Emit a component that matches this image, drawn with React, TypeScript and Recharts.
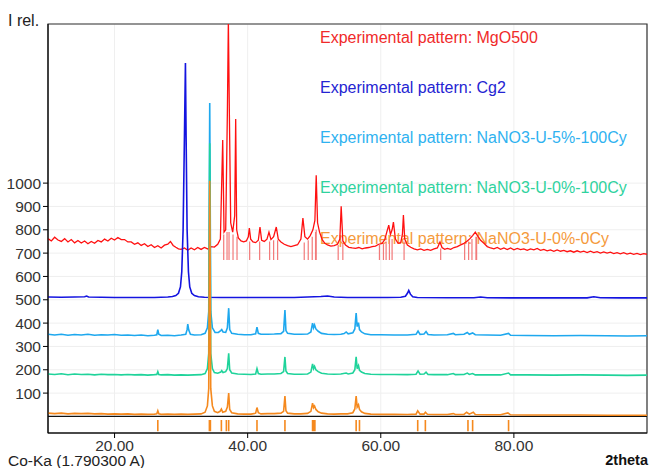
import React from "react";
import { LineChart, Line, XAxis, YAxis, CartesianGrid, ReferenceArea } from "recharts";

// 2theta (Co-Ka) / relative intensity, each pattern already offset as in the plot
type Pt = [number, number];

const mgo500: Pt[] = [
  [10, 762], [10.5, 752], [11, 768], [11.5, 756], [12, 750], [12.5, 762], [13, 748], [13.5, 758],
  [14, 744], [14.5, 754], [15, 743], [15.5, 752], [16, 740], [16.5, 750], [17, 742], [17.5, 754],
  [18, 748], [18.5, 760], [19, 752], [19.5, 764], [20, 756], [20.5, 767], [21, 758], [21.5, 758],
  [22, 748], [22.5, 748], [23, 738], [23.5, 744], [24, 733], [24.5, 740], [25, 728], [25.5, 736],
  [26, 724], [26.5, 732], [27, 722], [27.5, 734], [28, 738], [28.4, 750], [28.8, 733], [29.2, 725],
  [29.6, 718], [30, 716], [30.5, 722], [31, 712], [31.5, 722], [32, 714], [32.5, 724], [33, 716],
  [33.5, 724], [34, 718], [34.5, 728], [35, 726], [35.5, 738], [35.9, 760], [36.25, 1185], [36.45, 790],
  [36.7, 800], [36.95, 1300], [37.1, 1700], [37.25, 1300], [37.45, 830], [37.75, 790], [38.05, 860],
  [38.2, 1275], [38.35, 800], [38.6, 765], [39, 752], [39.4, 748], [39.8, 752], [40.1, 770],
  [40.25, 807], [40.45, 760], [40.8, 748], [41.2, 745], [41.6, 755], [41.85, 812], [42.1, 755],
  [42.5, 750], [42.9, 760], [43.2, 790], [43.5, 758], [43.9, 770], [44.3, 812], [44.6, 760], [45, 748],
  [45.5, 738], [46, 732], [46.5, 728], [47, 732], [47.5, 736], [48, 760], [48.3, 850], [48.6, 770],
  [49, 760], [49.4, 775], [49.8, 800], [50.1, 840], [50.3, 1034], [50.5, 830], [50.8, 790], [51.2, 758],
  [51.6, 742], [52, 735], [52.5, 730], [53, 732], [53.5, 738], [53.85, 760], [54.05, 901], [54.3, 752],
  [54.7, 735], [55.2, 725], [55.7, 722], [56.2, 720], [56.7, 724], [57.2, 718], [57.7, 722], [58.2, 724],
  [58.7, 728], [59.2, 730], [59.7, 738], [60.2, 742], [60.6, 758], [60.9, 790], [61.2, 820], [61.45, 780],
  [61.7, 800], [61.9, 833], [62.2, 760], [62.6, 742], [63, 745], [63.25, 780], [63.4, 863], [63.6, 760],
  [64, 735], [64.5, 725], [65, 718], [65.5, 714], [66, 718], [66.5, 712], [67, 716], [67.5, 712],
  [68, 718], [68.5, 722], [68.9, 748], [69.2, 724], [69.6, 716], [70, 720], [70.5, 716], [71, 724],
  [71.5, 728], [72, 735], [72.5, 742], [73, 752], [73.4, 762], [73.8, 775], [74.2, 790], [74.6, 772],
  [75, 755], [75.5, 742], [76, 728], [76.5, 722], [77, 718], [77.5, 724], [78, 716], [78.5, 722],
  [79, 715], [79.5, 722], [80, 714], [80.5, 720], [81, 715], [81.5, 718], [82, 712], [82.5, 718],
  [83, 714], [83.5, 720], [84, 712], [84.5, 716], [85, 710], [85.5, 714], [86, 708], [86.5, 714],
  [87, 708], [87.5, 712], [88, 706], [88.5, 710], [89, 704], [89.5, 710], [90, 704], [90.5, 708],
  [91, 702], [91.5, 708], [92, 702], [92.5, 706], [93, 700], [93.5, 705], [94, 700], [94.5, 704],
  [95, 698], [95.5, 702], [96, 697], [96.5, 702], [97, 696], [97.5, 700], [98, 695], [98.5, 699],
  [99, 694], [99.5, 698], [100, 695],
];

const cg2: Pt[] = [
  [10, 512], [12, 511], [14, 512], [15.5, 513], [15.8, 516], [16.1, 512], [18, 511], [20, 510],
  [22, 510], [24, 510], [26, 510], [27, 511], [28, 512], [28.7, 514], [29.2, 518], [29.6, 528],
  [29.9, 555], [30.1, 620], [30.3, 800], [30.5, 1200], [30.65, 1515], [30.75, 1200], [30.9, 800],
  [31.1, 620], [31.3, 555], [31.6, 528], [32, 518], [32.6, 513], [33.5, 511], [36, 510], [40, 510],
  [44, 510], [47, 510], [49, 512], [51, 514], [52, 516], [53, 512], [55, 510], [58, 510], [61, 510],
  [63, 511], [63.7, 515], [64, 528], [64.2, 540], [64.45, 524], [64.8, 513], [65.5, 510], [70, 509],
  [74, 509], [75, 512], [76, 509], [80, 508], [86, 508], [91, 508], [92, 513], [93, 509], [96, 508],
  [100, 508],
];

const u5_100cy: Pt[] = [
  [10, 352], [11, 349], [12, 352], [13, 348], [14, 351], [15, 349], [16, 352], [17, 348], [18, 350],
  [19, 349], [20, 351], [21, 348], [22, 349], [23, 347], [24, 349], [25, 346], [26, 348], [26.35, 350],
  [26.5, 372], [26.65, 352], [27, 347], [28, 348], [29, 346], [30, 349], [30.7, 352], [30.9, 372],
  [31, 396], [31.15, 370], [31.4, 352], [32, 349], [33, 350], [33.6, 356], [33.95, 380], [34.15, 450],
  [34.3, 1343], [34.45, 450], [34.7, 380], [35.1, 360], [35.6, 360], [35.95, 368], [36.1, 372],
  [36.3, 362], [36.7, 360], [36.95, 380], [37.15, 464], [37.3, 372], [37.6, 356], [38.5, 352],
  [39.5, 350], [40.5, 350], [41.2, 354], [41.4, 383], [41.6, 356], [42, 352], [43, 352], [44, 353],
  [45, 355], [45.4, 365], [45.6, 456], [45.75, 368], [46, 356], [47, 352], [48, 352], [49, 353],
  [49.5, 362], [49.75, 400], [49.9, 380], [50.05, 392], [50.25, 375], [50.6, 365], [51.1, 356],
  [52, 352], [53, 351], [54, 352], [54.5, 355], [54.8, 362], [55.1, 354], [55.8, 358], [56.1, 375],
  [56.3, 443], [56.45, 385], [56.65, 402], [56.8, 372], [57.1, 362], [57.6, 354], [58.5, 350],
  [60, 350], [62, 349], [64, 349], [65.3, 352], [65.6, 366], [65.9, 352], [66.5, 353], [66.8, 364],
  [67.1, 351], [68, 349], [70, 350], [70.9, 356], [71.2, 350], [72.5, 352], [73, 360], [73.3, 352],
  [73.8, 358], [74.2, 350], [76, 349], [78, 348], [79.2, 356], [79.5, 348], [82, 347], [86, 346],
  [90, 347], [94, 346], [97, 345], [100, 346],
];

const u0_100cy: Pt[] = [
  [10, 182], [11, 180], [12, 183], [13, 179], [14, 182], [15, 180], [16, 181], [17, 178], [18, 181],
  [19, 179], [20, 180], [21, 178], [22, 180], [23, 178], [24, 179], [25, 177], [26, 179], [26.35, 180],
  [26.5, 192], [26.65, 180], [27, 178], [28, 179], [29, 177], [30, 178], [31, 177], [32, 178],
  [33, 179], [33.6, 184], [33.95, 205], [34.15, 270], [34.3, 1171], [34.45, 270], [34.7, 205],
  [35, 188], [35.5, 185], [35.95, 190], [36.1, 196], [36.3, 188], [36.7, 192], [36.95, 205],
  [37.15, 271], [37.3, 200], [37.6, 186], [38.5, 182], [39.5, 181], [40.5, 180], [41.2, 182],
  [41.4, 205], [41.6, 184], [42, 181], [43, 182], [44, 182], [45, 184], [45.4, 192], [45.6, 255],
  [45.75, 195], [46, 184], [47, 181], [48, 181], [49, 182], [49.5, 190], [49.75, 225], [49.9, 205],
  [50.05, 215], [50.25, 200], [50.6, 192], [51.1, 185], [52, 182], [53, 181], [54, 182], [54.8, 186],
  [55.1, 182], [55.8, 186], [56.1, 200], [56.3, 255], [56.45, 205], [56.65, 218], [56.8, 198],
  [57.1, 190], [57.6, 184], [58.5, 181], [60, 180], [62, 180], [64, 179], [65.3, 181], [65.6, 195],
  [65.9, 181], [66.5, 182], [66.8, 190], [67.1, 180], [68, 179], [70, 179], [70.9, 184], [71.2, 179],
  [72.5, 180], [73, 186], [73.3, 180], [73.8, 184], [74.2, 178], [76, 178], [78, 178], [79.2, 186],
  [79.5, 178], [82, 178], [86, 177], [90, 178], [94, 177], [97, 176], [100, 177],
];

const u0_0cy: Pt[] = [
  [10, 14], [11, 12], [12, 14], [13, 11], [14, 13], [15, 12], [16, 13], [17, 11], [18, 12], [19, 10],
  [20, 11], [21, 10], [22, 11], [23, 9], [24, 10], [25, 9], [26, 10], [26.35, 11], [26.5, 24],
  [26.65, 11], [27, 9], [28, 10], [29, 9], [30, 10], [31, 9], [32, 10], [33, 11], [33.6, 18],
  [33.95, 45], [34.15, 120], [34.3, 1010], [34.45, 120], [34.7, 45], [35, 22], [35.5, 16], [35.85, 22],
  [36.05, 32], [36.25, 18], [36.7, 22], [36.95, 40], [37.15, 100], [37.3, 30], [37.6, 16], [38.5, 11],
  [39.5, 10], [40.5, 10], [41.2, 14], [41.4, 38], [41.6, 16], [42, 11], [43, 12], [44, 12], [45, 14],
  [45.4, 22], [45.6, 87], [45.75, 24], [46, 14], [47, 11], [48, 11], [49, 13], [49.5, 22], [49.75, 57],
  [49.9, 38], [50.05, 45], [50.25, 30], [50.6, 20], [51.1, 14], [52, 11], [53, 10], [54, 11], [55, 11],
  [55.8, 16], [56.1, 32], [56.3, 87], [56.45, 40], [56.65, 50], [56.8, 30], [57.1, 20], [57.6, 13],
  [58.5, 10], [60, 9], [62, 9], [64, 8], [65.3, 10], [65.55, 24], [65.9, 10], [66.5, 10], [66.7, 18],
  [67, 9], [68, 8], [70, 8], [70.9, 12], [71.2, 8], [72.5, 9], [72.9, 18], [73.3, 10], [73.9, 18],
  [74.2, 8], [76, 7], [78, 7], [79.1, 15], [79.5, 7], [82, 6], [86, 6], [90, 6], [94, 5], [97, 5],
  [100, 5],
];

// reference sticks
const mgoStickPos = [36.4, 36.9, 37.2, 37.8, 38.4, 40.3, 41.8, 43.3, 43.9, 44.5, 48.5, 49.1, 49.7,
  50.2, 50.3, 53.6, 54.3, 59.8, 60.4, 60.8, 61.3, 61.7, 63.5, 69.0, 72.6, 73.2, 73.7, 74.3, 74.4];
const mgoStickTop = [780, 790, 790, 780, 770, 750, 750, 750, 755, 755, 745, 755, 770,
  790, 800, 735, 740, 735, 740, 750, 760, 760, 750, 720, 740, 750, 760, 770, 770];
const mgoStickBase = 670;

const nanoStickPos = [26.5, 34.25, 34.4, 36.05, 36.8, 37.15, 41.4, 45.6, 49.75, 49.9, 50.1, 56.3,
  56.8, 65.55, 66.7, 73.1, 73.8, 79.2];
const nanoStickTop = -15;
const nanoStickBase = -63;

const zeroLine: Pt[] = [[10, 0], [100, 0]];

const xTicks = [20, 40, 60, 80];
const yTicks = [100, 200, 300, 400, 500, 600, 700, 800, 900, 1000];

const labels = [
  { text: "Experimental pattern: MgO500", color: "#f02a2a" },
  { text: "Experimental pattern: Cg2", color: "#2424d2" },
  { text: "Experimental pattern: NaNO3-U-5%-100Cy", color: "#2fb2f0" },
  { text: "Experimental pattern: NaNO3-U-0%-100Cy", color: "#2fd29e" },
  { text: "Experimental pattern: NaNO3-U-0%-0Cy", color: "#f59a3c" },
];

const pts = (a: Pt[]) => a.map(([x, y]) => ({ x, y }));
const sticks = (pos: number[], lo: number | number[], hi: number | number[]) =>
  pos.flatMap((x, i) => [
    { x, y: Array.isArray(lo) ? lo[i] : lo },
    { x, y: Array.isArray(hi) ? hi[i] : hi },
    { x, y: null },
  ]);

const FONT = "'Liberation Sans', Arial, sans-serif";
const tickStyle = { fontSize: 15.5, fill: "#333", fontFamily: FONT };

export default function App() {
  return (
    <div style={{ position: "absolute", left: 0, top: 0, width: 650, height: 468, background: "#fff" }}>
      <LineChart width={650} height={468} margin={{ top: 24, right: 3, left: 0, bottom: 0 }}>
        <CartesianGrid stroke="#efefef" />
        <XAxis
          type="number"
          dataKey="x"
          domain={[10, 100]}
          ticks={xTicks}
          allowDataOverflow
          height={35}
          tickSize={5}
          tickFormatter={(v: number) => v.toFixed(2)}
          tick={tickStyle}
          stroke="#000"
        />
        <YAxis
          type="number"
          domain={[-71, 1682]}
          ticks={yTicks}
          allowDataOverflow
          width={48}
          tickSize={5}
          tick={tickStyle}
          stroke="#000"
        />
        <ReferenceArea x1={10} x2={100} y1={-71} y2={1682} fill="none" stroke="#333" strokeWidth={1.2} />
        <Line data={pts(zeroLine)} dataKey="y" stroke="#111" strokeWidth={1.2} dot={false} isAnimationActive={false} />
        <Line data={sticks(mgoStickPos, mgoStickBase, mgoStickTop)} dataKey="y" stroke="#f27a7a" strokeWidth={1.2} dot={false} connectNulls={false} isAnimationActive={false} />
        <Line data={pts(mgo500)} dataKey="y" stroke="#ff1010" strokeWidth={1.3} dot={false} isAnimationActive={false} />
        <Line data={pts(cg2)} dataKey="y" stroke="#1414e0" strokeWidth={1.6} dot={false} isAnimationActive={false} />
        <Line data={pts(u5_100cy)} dataKey="y" stroke="#1ea8ee" strokeWidth={1.6} dot={false} isAnimationActive={false} />
        <Line data={pts(u0_100cy)} dataKey="y" stroke="#1fd39a" strokeWidth={1.6} dot={false} isAnimationActive={false} />
        <Line data={pts(u0_0cy)} dataKey="y" stroke="#f5891e" strokeWidth={1.6} dot={false} isAnimationActive={false} />
        <Line data={sticks(nanoStickPos, nanoStickBase, nanoStickTop)} dataKey="y" stroke="#f5891e" strokeWidth={1.6} dot={false} connectNulls={false} isAnimationActive={false} />
        {labels.map((l, i) => (
          <text key={l.text} x={320} y={37 + i * 50.3} dominantBaseline="central" fontSize={16} fontFamily={FONT} fill={l.color}>
            {l.text}
          </text>
        ))}
        <text x={8} y={20} dominantBaseline="central" fontSize={16} fontFamily={FONT} fill="#222">I rel.</text>
        <text x={8} y={460} dominantBaseline="central" fontSize={15.5} fontFamily={FONT} fill="#222">Co-Ka (1.790300 A)</text>
        <text x={648} y={460} dominantBaseline="central" textAnchor="end" fontSize={14.5} fontWeight="bold" fontFamily={FONT} fill="#111">2theta</text>
      </LineChart>
    </div>
  );
}
